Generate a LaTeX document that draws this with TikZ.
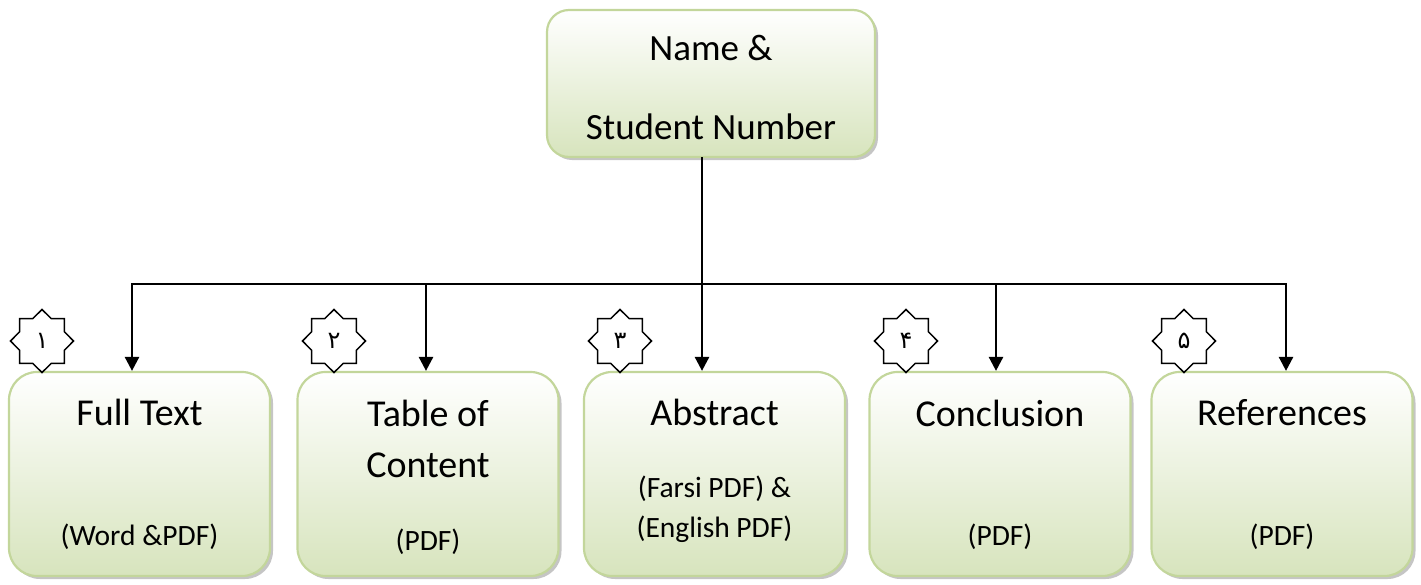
\documentclass[tikz,border=0pt]{standalone}
\usepackage{fontspec}
\setmainfont{Carlito}
\newfontfamily\fafont[Script=Arabic]{DejaVu Sans}
\usetikzlibrary{arrows.meta,shapes.geometric,shadows}
\definecolor{bord}{HTML}{C3D69B}
\definecolor{fillbot}{HTML}{D7E4BD}
\begin{document}
\begin{tikzpicture}[x=1pt,y=-1pt,
  boxbase/.style={draw=bord, line width=2.2pt, top color=white, bottom color=fillbot, inner sep=0pt,
    drop shadow={shadow xshift=3pt, shadow yshift=-3pt, fill=black!45, opacity=0.5}},
  bigbox/.style={boxbase, rounded corners=28pt, minimum width=261pt, minimum height=204pt},
  topbox/.style={boxbase, rounded corners=22pt, minimum width=328pt, minimum height=147pt},
  ttl/.style={anchor=base, inner sep=0pt, font=\fontsize{38}{44}\selectfont},
  toptxt/.style={anchor=base, inner sep=0pt, font=\fontsize{37}{44}\selectfont},
  sub/.style={anchor=base, inner sep=0pt, font=\fontsize{29.5}{34}\selectfont},
  badge/.style={draw=black, line width=1.5pt, fill=white, star, star points=8, star point ratio=1.3,
    minimum size=63pt, inner sep=0pt, font=\fafont\fontsize{24}{26}\selectfont},
  conn/.style={line width=2.6pt, black},
  arr/.style={conn, -{Triangle[length=14pt,width=14pt]}}]
\useasboundingbox (0,0) rectangle (1421,584);

% top box
\node[topbox] (top) at (711,83.5) {};
\node[toptxt] (topa) at (711,60) {Name \&};
\node[toptxt] (topb) at (711,139) {Student Number};

% bottom boxes
\node[bigbox] (b1) at (139.5,474) {};
\node[bigbox] (b2) at (428,474) {};
\node[bigbox] (b3) at (714.5,474) {};
\node[bigbox] (b4) at (1000,474) {};
\node[bigbox] (b5) at (1282,474) {};

\node[ttl] (t1) at (139.5,425) {Full Text};
\node[sub] (s1) at (139.5,545) {(Word \&PDF)};

\node[ttl] (t2a) at (428,426) {Table of};
\node[ttl] (t2b) at (428,477) {Content};
\node[sub] (s2) at (428,550) {(PDF)};

\node[ttl] (t3) at (714.5,425) {Abstract};
\node[sub] (s3a) at (714.5,497) {(Farsi PDF) \&};
\node[sub] (s3b) at (714.5,537) {(English PDF)};

\node[ttl] (t4) at (1000,426) {Conclusion};
\node[sub] (s4) at (1000,545) {(PDF)};

\node[ttl] (t5) at (1282,425) {References};
\node[sub] (s5) at (1282,545) {(PDF)};

% stars
\node[badge] (st1) at (42,341) {۱};
\node[badge] (st2) at (334,341) {۲};
\node[badge] (st3) at (620,341) {۳};
\node[badge] (st4) at (906,341) {۴};
\node[badge] (st5) at (1184,341) {۵};

% connectors
\coordinate (t0) at (702,157);
\coordinate (j1) at (132,284);
\coordinate (j2) at (426,284);
\coordinate (j4) at (996,284);
\coordinate (j5) at (1286,284);
\draw[conn, line cap=rect] (j1) -- (j5);
\draw[arr] (t0) -- (t0 |- b3.north);
\draw[arr] (j1) -- (j1 |- b1.north);
\draw[arr] (j2) -- (j2 |- b2.north);
\draw[arr] (j4) -- (j4 |- b4.north);
\draw[arr] (j5) -- (j5 |- b5.north);
\end{tikzpicture}
\end{document}
